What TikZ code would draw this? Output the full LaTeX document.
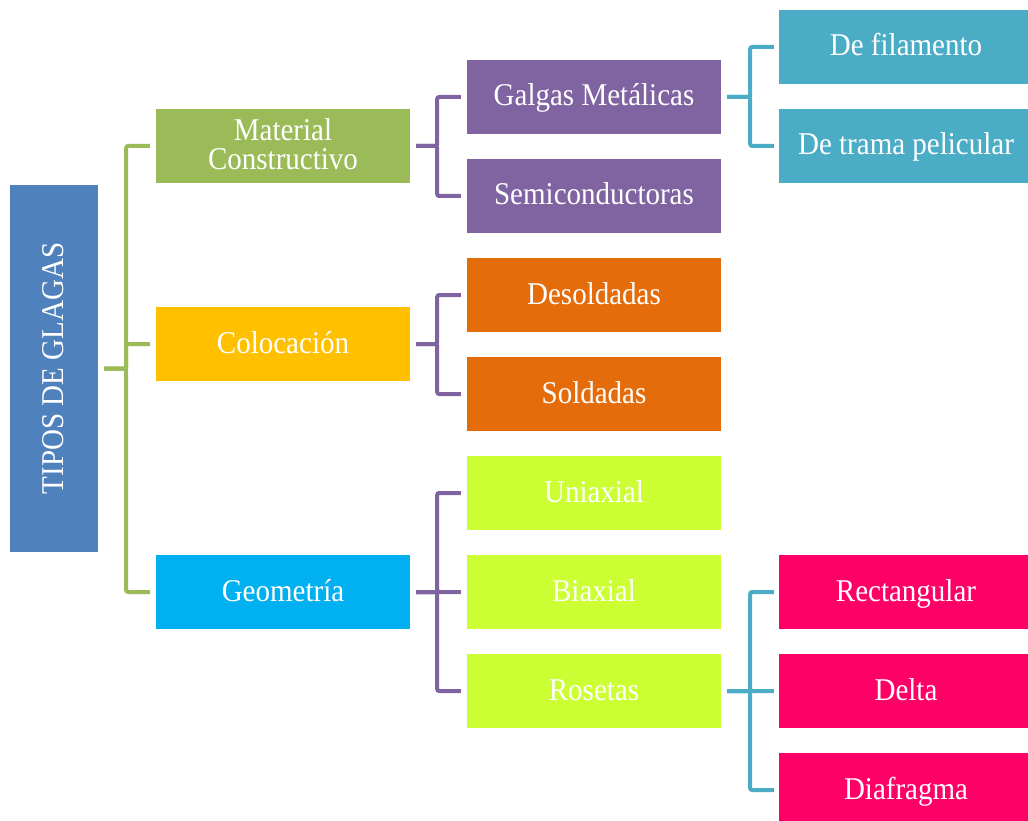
\documentclass[tikz,border=0pt]{standalone}
\usepackage{fontspec}
\setmainfont{Liberation Serif}
\newfontfamily\boxfont[FakeStretch=0.915]{Liberation Serif}
\definecolor{cRoot}{HTML}{4F81BD}
\definecolor{cMat}{HTML}{9BBB59}
\definecolor{cCol}{HTML}{FFC000}
\definecolor{cGeo}{HTML}{00B0F0}
\definecolor{cPur}{HTML}{8064A2}
\definecolor{cOra}{HTML}{E46C0A}
\definecolor{cLim}{HTML}{CCFF33}
\definecolor{cCya}{HTML}{4BACC6}
\definecolor{cPnk}{HTML}{FF0066}
\tikzset{
  box/.style={rectangle, inner sep=0pt, text=white, align=center,
    minimum width=254pt, minimum height=74pt,
    font=\boxfont\fontsize{31.7}{29.3}\selectfont, text height=23pt, text depth=5pt},
  conn/.style={line width=4pt, rounded corners=2pt}
}
\begin{document}
\begin{tikzpicture}[x=1pt,y=-1pt]
\useasboundingbox (0,0) rectangle (1028,821);
\clip (0,0) rectangle (1028,821);
% root
\node[box, fill=cRoot, rotate=90, minimum width=367pt, minimum height=88pt] (root) at (54,368.5) {TIPOS DE GLAGAS};
% level 1
\node[box, fill=cMat, text height=52.3pt] (mat) at (283,146) {Material\\Constructivo};
\node[box, fill=cCol] (col) at (283,344) {Colocación};
\node[box, fill=cGeo] (geo) at (283,592) {Geometría};
% level 2
\node[box, fill=cPur] (gal) at (594,97) {Galgas Metálicas};
\node[box, fill=cPur] (sem) at (594,196) {Semiconductoras};
\node[box, fill=cOra] (des) at (594,295) {Desoldadas};
\node[box, fill=cOra] (sol) at (594,394) {Soldadas};
\node[box, fill=cLim] (uni) at (594,493) {Uniaxial};
\node[box, fill=cLim] (bia) at (594,592) {Biaxial};
\node[box, fill=cLim] (ros) at (594,691) {Rosetas};
% level 3
\node[box, fill=cCya] (fil) at (906,47) {De filamento};
\node[box, fill=cCya] (tra) at (906,146) {De trama pelicular};
\node[box, fill=cPnk] (rec) at (906,592) {Rectangular};
\node[box, fill=cPnk] (del) at (906,691) {Delta};
\node[box, fill=cPnk] (dia) at (906,790) {Diafragma};
% connectors root -> level 1
\foreach \c in {mat,col,geo}
  \draw[conn, cMat] ([xshift=6pt]root.south) -- ++(22,0) |- ([xshift=-6pt]\c.west);
% level 1 -> level 2
\foreach \p/\c in {mat/gal, mat/sem, col/des, col/sol, geo/uni, geo/bia, geo/ros}
  \draw[conn, cPur] ([xshift=6pt]\p.east) -- ++(21,0) |- ([xshift=-6pt]\c.west);
% level 2 -> level 3
\foreach \p/\c in {gal/fil, gal/tra, ros/rec, ros/del, ros/dia}
  \draw[conn, cCya] ([xshift=6pt]\p.east) -- ++(23,0) |- ([xshift=-5pt]\c.west);
\end{tikzpicture}
\end{document}
